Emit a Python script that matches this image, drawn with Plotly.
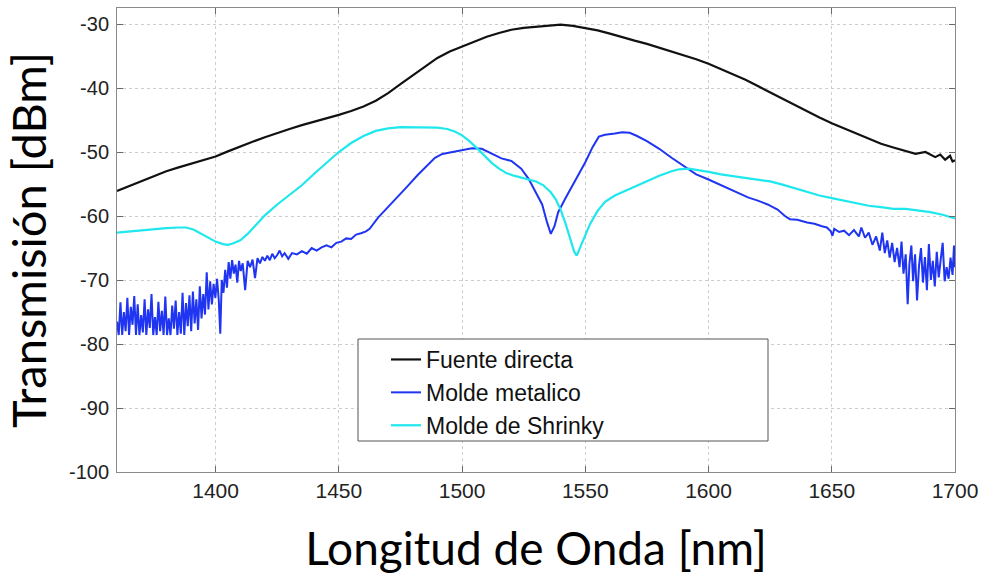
import plotly.graph_objects as go

# ---------------- data ----------------
fuente_x = [1360, 1365, 1370, 1375, 1380, 1385, 1390, 1395, 1400, 1405, 1410, 1415, 1420, 1425,
            1430, 1435, 1440, 1445, 1450, 1455, 1460, 1465, 1470, 1475, 1480, 1485, 1490, 1495,
            1500, 1505, 1510, 1515, 1520, 1525, 1530, 1535, 1540, 1545, 1550, 1555, 1560, 1565,
            1570, 1575, 1580, 1585, 1590, 1595, 1600, 1605, 1610, 1615, 1620, 1625, 1630, 1635,
            1640, 1645, 1650, 1655, 1660, 1665, 1670, 1675, 1680, 1684, 1688, 1692, 1694, 1696,
            1698, 1699, 1700]
fuente_y = [-56.1, -55.3, -54.5, -53.8, -53.0, -52.4, -51.8, -51.2, -50.7, -49.9, -49.1, -48.4, -47.7, -47.0,
            -46.4, -45.8, -45.3, -44.7, -44.2, -43.6, -42.9, -42.0, -40.8, -39.4, -38.0, -36.6, -35.3, -34.3,
            -33.5, -32.7, -32.0, -31.4, -30.9, -30.6, -30.4, -30.2, -30.1, -30.3, -30.6, -31.0, -31.5, -32.1,
            -32.6, -33.1, -33.7, -34.2, -34.9, -35.5, -36.2, -37.0, -37.8, -38.7, -39.7, -40.7, -41.7, -42.7,
            -43.7, -44.6, -45.5, -46.3, -47.1, -47.9, -48.7, -49.3, -49.8, -50.3, -50.0, -50.8, -50.4, -51.2,
            -50.6, -51.5, -51.3]

metal_x = [1360.0, 1360.7, 1361.4, 1362.1, 1362.8, 1363.5, 1364.2, 1364.9, 1365.6, 1366.3, 1367.0, 1367.7,
           1368.4, 1369.1, 1369.8, 1370.5, 1371.2, 1371.9, 1372.6, 1373.3, 1374.0, 1374.7, 1375.4, 1376.1,
           1376.8, 1377.5, 1378.2, 1378.9, 1379.6, 1380.3, 1381.0, 1381.7, 1382.4, 1383.1, 1383.8, 1384.5,
           1385.2, 1385.9, 1386.6, 1387.3, 1388.0, 1388.7, 1389.4, 1390.1, 1390.8, 1391.5, 1392.2, 1392.9,
           1393.6, 1394.3, 1395.0, 1395.7, 1396.4, 1397.1, 1397.8, 1398.5, 1399.2, 1399.9, 1400.6, 1401.3,
           1401.9, 1402.5, 1403.2, 1403.9, 1404.6, 1405.3, 1406.0, 1406.7, 1407.4, 1408.1, 1408.8, 1409.5,
           1410.2, 1411, 1412, 1413, 1414, 1415, 1416, 1417, 1418, 1419, 1420, 1421, 1422, 1423, 1424,
           1425, 1426, 1427, 1428, 1429.5, 1431, 1433, 1435, 1437, 1439, 1441, 1443, 1445, 1447, 1449,
           1451, 1453, 1455, 1457, 1459, 1461, 1462.5, 1464, 1466, 1468.5, 1471, 1475, 1478, 1482, 1486,
           1489, 1492, 1496, 1500, 1504, 1508, 1512, 1516, 1520, 1524, 1527, 1530, 1532.5, 1534.5, 1536,
           1537.5, 1539, 1542, 1545, 1548, 1550, 1553, 1555.5, 1558, 1562, 1565, 1568, 1571, 1575, 1580,
           1585, 1590, 1595, 1600, 1604, 1608, 1612, 1616, 1620, 1624, 1628, 1631, 1633, 1636, 1640,
           1643, 1646, 1648, 1649.6, 1650.3, 1651, 1653, 1655, 1657, 1659, 1661, 1662, 1663.5, 1665,
           1666.5, 1668, 1669.5, 1670.5, 1671.5, 1672.5, 1673.5, 1674.5, 1675.5, 1676.5, 1677.5, 1678.3,
           1679.1, 1680, 1680.8, 1681.5, 1682.3, 1683, 1683.8, 1684.6, 1685.4, 1686.2, 1687, 1687.8,
           1688.6, 1689.4, 1690.2, 1691, 1691.8, 1692.6, 1693.4, 1694.2, 1695, 1695.8, 1696.6, 1697.4,
           1698.2, 1699, 1699.6, 1700]
metal_y = [-76.5, -78.6, -73.5, -78.6, -75.0, -78.0, -72.8, -78.6, -74.2, -77.0, -72.5, -78.6,
           -73.8, -78.6, -75.5, -78.2, -73.0, -78.6, -74.6, -77.5, -72.2, -78.6, -75.8, -78.6,
           -73.4, -78.0, -74.8, -78.6, -72.6, -78.6, -76.0, -78.6, -74.0, -77.6, -73.2, -78.6,
           -75.0, -78.4, -72.0, -78.6, -73.6, -77.2, -72.4, -78.0, -71.8, -76.8, -73.0, -77.8,
           -71.0, -76.0, -72.2, -75.4, -68.8, -74.6, -70.2, -73.8, -70.6, -72.8, -69.8, -73.2,
           -78.4, -70.0, -72.0, -68.4, -71.2, -67.2, -69.8, -66.9, -69.0, -67.6, -70.4, -67.0,
           -68.6, -67.4, -71.6, -67.0, -68.0, -66.8, -69.7, -66.6, -67.4, -66.4, -67.0, -66.2, -66.9, -65.9, -66.6,
           -66.1, -65.4, -66.3, -65.8, -66.7, -65.8, -66.0, -65.5, -65.9, -65.0, -65.4, -64.9, -64.6, -64.9, -64.2,
           -64.0, -63.5, -63.6, -62.9, -62.7, -62.4, -62.0, -61.2, -60.2, -59.2, -58.2, -56.6, -55.3, -53.6, -52.0,
           -50.9, -50.3, -50.0, -49.7, -49.4, -49.5, -50.2, -51.0, -51.4, -52.6, -54.2, -56.3, -58.2, -61.0, -62.8,
           -61.6, -59.4, -57.2, -55.0, -53.0, -51.6, -49.2, -47.6, -47.3, -47.1, -46.9, -47.0, -47.5, -48.3, -49.5,
           -50.9, -52.2, -53.5, -54.3, -55.0, -55.7, -56.5, -57.1, -57.6, -58.2, -59.0, -60.0, -60.5, -60.6, -61.0,
           -61.2, -61.6, -61.8, -62.4, -63.1, -62.0, -62.5, -62.3, -63.0, -62.2, -63.2, -61.8, -63.4, -62.6,
           -64.5, -63.2, -65.4, -62.6, -65.8, -63.8, -66.5, -64.2, -67.2, -65.0, -68.0, -64.0,
           -69.0, -66.0, -73.8, -67.5, -64.6, -70.2, -66.0, -73.2, -67.8, -65.0, -70.4, -66.4,
           -71.6, -64.4, -70.0, -67.0, -71.0, -65.6, -69.6, -66.8, -64.2, -70.2, -68.0, -69.8,
           -66.5, -69.2, -64.6, -68.0]

shrinky_x = [1360, 1365, 1370, 1375, 1380, 1385, 1388, 1391, 1394, 1397, 1400, 1403, 1405, 1407, 1410,
             1413, 1416, 1420, 1425, 1430, 1435, 1440, 1445, 1450, 1455, 1460, 1465, 1470, 1475, 1480,
             1485, 1490, 1494, 1497, 1500, 1503, 1506, 1509, 1512, 1515, 1518, 1521, 1524, 1527, 1530,
             1533, 1536, 1538, 1540, 1542, 1544, 1545.5, 1546.5, 1548, 1550, 1552, 1555, 1558, 1562, 1566,
             1570, 1575, 1580, 1585, 1588, 1592, 1596, 1600, 1605, 1610, 1615, 1620, 1625, 1630, 1635,
             1640, 1645, 1650, 1655, 1660, 1665, 1670, 1675, 1680, 1685, 1690, 1695, 1700]
shrinky_y = [-62.6, -62.4, -62.2, -62.0, -61.9, -61.8, -61.8, -62.1, -62.7, -63.4, -64.0, -64.4, -64.5, -64.3, -63.8,
             -62.8, -61.6, -59.9, -58.2, -56.7, -55.2, -53.4, -51.7, -50.0, -48.6, -47.5, -46.7, -46.3, -46.1, -46.1,
             -46.1, -46.2, -46.4, -46.8, -47.4, -48.3, -49.4, -50.6, -51.7, -52.6, -53.3, -53.7, -54.0, -54.2, -54.6,
             -55.2, -56.3, -57.4, -59.0, -61.2, -63.6, -65.6, -66.2, -64.8, -63.0, -61.2, -59.2, -57.8, -56.8, -56.1,
             -55.5, -54.6, -53.7, -53.0, -52.7, -52.6, -52.8, -53.1, -53.5, -53.8, -54.0, -54.3, -54.6, -55.1, -55.7,
             -56.3, -56.8, -57.2, -57.6, -58.0, -58.4, -58.6, -58.9, -58.9, -59.1, -59.4, -59.8, -60.4]

series_names = ["Fuente directa", "Molde metalico", "Molde de Shrinky"]
x_ticks = [1400, 1450, 1500, 1550, 1600, 1650, 1700]
y_ticks = [-100, -90, -80, -70, -60, -50, -40, -30]

# ---------------- figure ----------------
fig = go.Figure()
fig.add_trace(go.Scatter(x=fuente_x, y=fuente_y, mode="lines", name=series_names[0],
                         line=dict(color="#111111", width=2.2), legendgroup="a"))
fig.add_trace(go.Scatter(x=metal_x, y=metal_y, mode="lines", name=series_names[1],
                         line=dict(color="#1f35f2", width=2), legendgroup="b"))
fig.add_trace(go.Scatter(x=shrinky_x, y=shrinky_y, mode="lines", name=series_names[2],
                         line=dict(color="#1ee8ee", width=2.2), legendgroup="c"))

pl, pr, pt, pb = 117, 955, 8, 472
W, H = 984, 575
pw, ph = pr - pl, pb - pt

def px(xp):
    return (xp - pl) / pw

def py(yp):
    return (pb - yp) / ph

# legend box
fig.add_shape(type="rect", xref="paper", yref="paper",
              x0=px(358), x1=px(768), y0=py(441), y1=py(339),
              line=dict(color="#555555", width=1), fillcolor="white", layer="above")

axis_common = dict(showline=True, linecolor="#8a8a8a", linewidth=1, mirror="ticks",
                   ticks="inside", ticklen=6, tickcolor="#6a6a6a",
                   showgrid=True, gridcolor="#cdcdcd", griddash="dot", gridwidth=1,
                   zeroline=False, automargin=False)

fig.update_layout(
    width=W, height=H,
    margin=dict(l=pl, r=W - pr, t=pt, b=H - pb),
    paper_bgcolor="white", plot_bgcolor="white",
    showlegend=True,
    legend=dict(x=px(386), y=py(338), xanchor="left", yanchor="top",
                bgcolor="rgba(0,0,0,0)", borderwidth=0,
                font=dict(family="Liberation Sans, Arial, sans-serif", size=23, color="#111111"),
                traceorder="grouped", tracegroupgap=0),
    xaxis=dict(range=[1360, 1700], tickvals=x_ticks, ticktext=[str(v) for v in x_ticks],
               tickfont=dict(family="Liberation Sans Narrow, Liberation Sans, Arial", size=21, color="#222222"),
               title=dict(text="Longitud de Onda [nm]",
                          font=dict(family="Lato, Open Sans, sans-serif", size=46, color="#000000"),
                          standoff=32),
               **axis_common),
    yaxis=dict(range=[-100, -27.5], tickvals=y_ticks, ticktext=[str(v) for v in y_ticks],
               tickfont=dict(family="Liberation Sans, Arial", size=20, color="#222222"),
               ticklabelstandoff=3,
               title=dict(text="Transmisión [dBm]",
                          font=dict(family="Lato, Open Sans, sans-serif", size=47, color="#000000"),
                          standoff=10),
               **axis_common),
)

fig.write_html("out.html", config={"displayModeBar": False},
               post_script="document.body.style.margin='0';document.body.style.overflow='hidden';")
